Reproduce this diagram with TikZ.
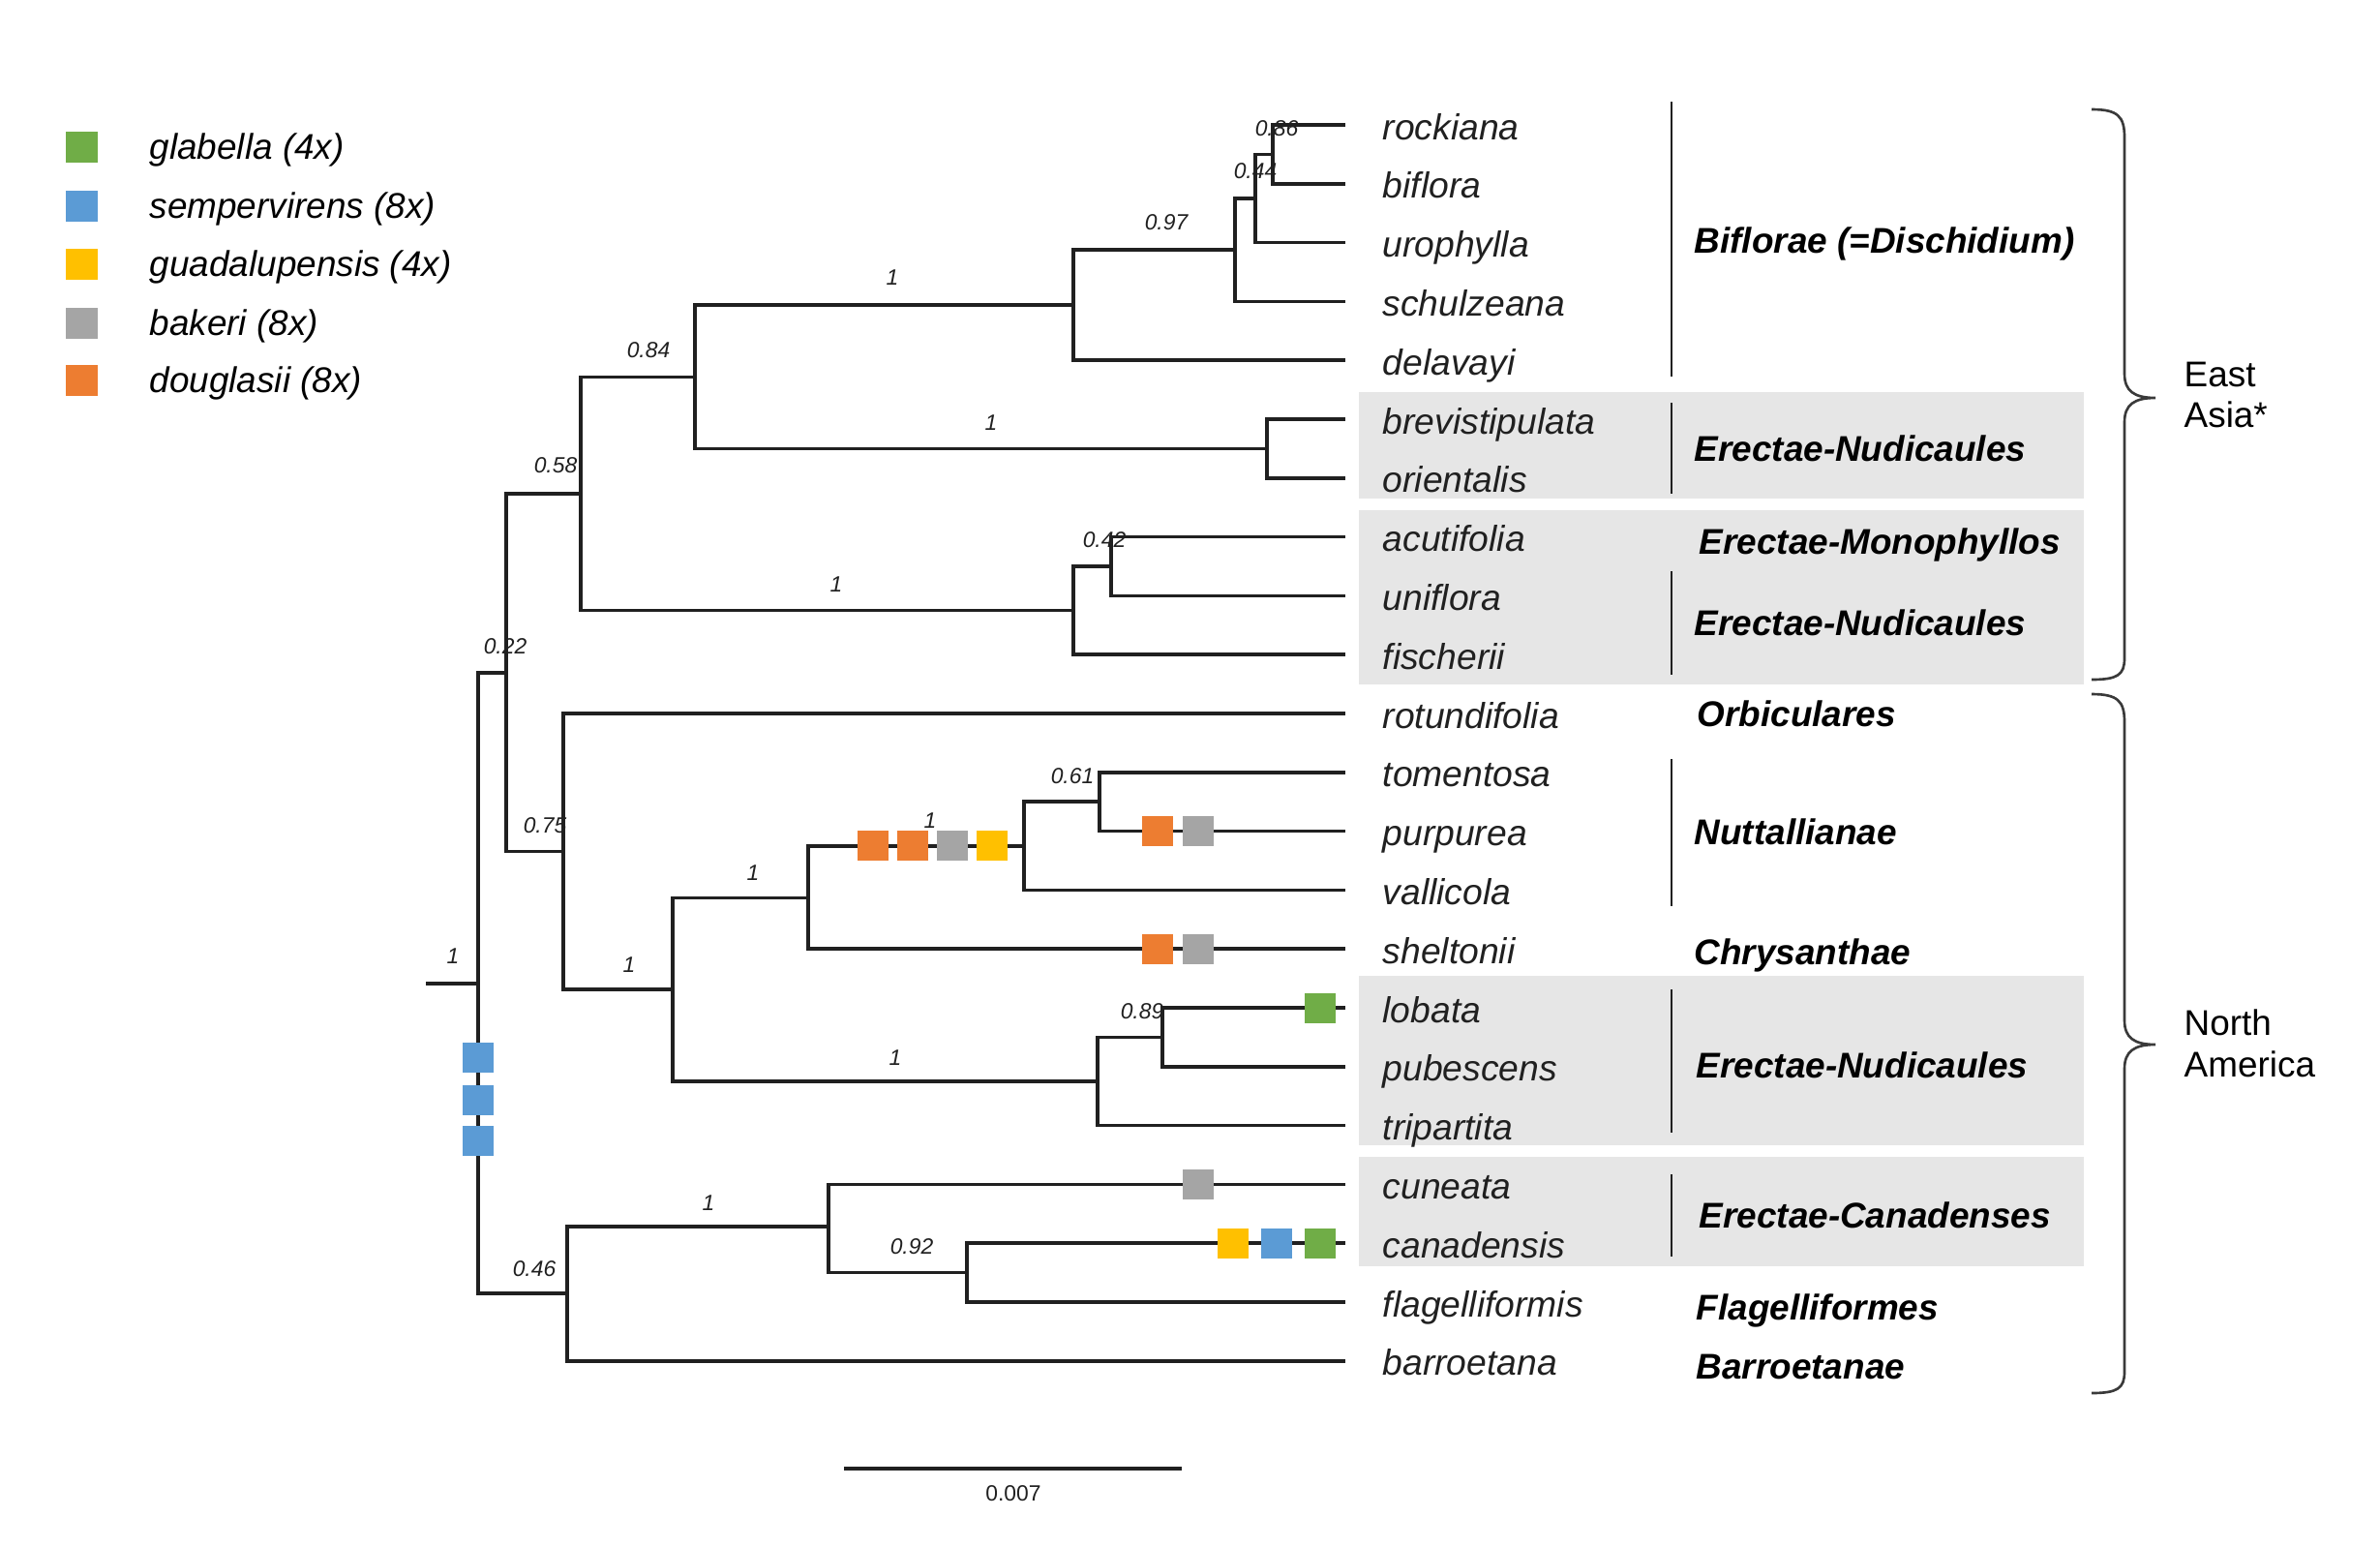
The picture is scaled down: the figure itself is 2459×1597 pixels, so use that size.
\documentclass[tikz,border=0pt]{standalone}
\usepackage{fontspec}
\setmainfont{Liberation Sans}
\definecolor{cgreen}{HTML}{70AD47}
\definecolor{cblue}{HTML}{5B9BD5}
\definecolor{cyellow}{HTML}{FFC000}
\definecolor{cgray}{HTML}{A5A5A5}
\definecolor{corange}{HTML}{ED7D31}
\definecolor{shadebg}{HTML}{E6E6E6}
\definecolor{treeline}{HTML}{202020}
\definecolor{bracecol}{HTML}{3A3A3A}
\begin{document}
\begin{tikzpicture}[x={(0.1mm,0)},y={(0,-0.1mm)},
  branch/.style={line width=1pt,draw=treeline},
  cladebar/.style={line width=0.65pt,draw=treeline},
  bracestyle/.style={line width=0.75pt,draw=bracecol},
  mk/.style={minimum width=3.2mm,minimum height=3.1mm,inner sep=0pt,fill=#1,draw=none},
  taxon/.style={anchor=base west,font=\fontsize{10.6}{12}\selectfont\itshape,inner sep=0pt,text=treeline},
  clade/.style={anchor=base west,font=\fontsize{10.5}{12}\selectfont\bfseries\itshape,inner sep=0pt},
  supp/.style={font=\fontsize{6.5}{7}\selectfont\itshape,inner sep=0pt,text=treeline},
  region/.style={anchor=north west,align=left,font=\fontsize{10.5}{12.2}\selectfont,inner sep=0pt},
  legtext/.style={anchor=base west,font=\fontsize{10.5}{12}\selectfont\itshape,inner sep=0pt}]
\useasboundingbox (0,0) rectangle (2459,1597);

% shaded clade backgrounds
\fill[shadebg] (1404,405) rectangle (2153,515);
\fill[shadebg] (1404,527) rectangle (2153,707);
\fill[shadebg] (1404,1008) rectangle (2153,1183);
\fill[shadebg] (1404,1195) rectangle (2153,1308);

% tips and taxon labels
\foreach \n/\i in {rockiana/0,biflora/1,urophylla/2,schulzeana/3,delavayi/4,brevistipulata/5,orientalis/6,acutifolia/7,uniflora/8,fischerii/9,rotundifolia/10,tomentosa/11,purpurea/12,vallicola/13,sheltonii/14,lobata/15,pubescens/16,tripartita/17,cuneata/18,canadensis/19,flagelliformis/20,barroetana/21}{
  \coordinate (t-\n) at (1390,{129+60.8*\i});
  \node[taxon] (l-\n) at (1428,{129+60.8*\i+15}) {\n};
}

% internal nodes
\coordinate (n086) at (1315,159.4);
\coordinate (n044) at (1297,205);
\coordinate (n097) at (1276,258.2);
\coordinate (nbif) at (1109,315.2);
\coordinate (nbo) at (1309,463.4);
\coordinate (n084) at (718,389.3);
\coordinate (n042) at (1148,585);
\coordinate (nuf) at (1109,630.6);
\coordinate (n058) at (600,510);
\coordinate (n061) at (1136,828.2);
\coordinate (nnut) at (1058,873.8);
\coordinate (nchr) at (835,927.5);
\coordinate (n089) at (1201,1071.5);
\coordinate (nlpt) at (1134,1117);
\coordinate (nna) at (695,1022);
\coordinate (n075) at (582,879.5);
\coordinate (n022) at (523,694.8);
\coordinate (n092) at (999,1314.6);
\coordinate (ncc) at (856,1267);
\coordinate (n046) at (586,1336);
\coordinate (root) at (494,1016);
\coordinate (rootstub) at (440,1016);

% tree edges
\draw[branch] (n086) |- (t-rockiana) (n086) |- (t-biflora);
\draw[branch] (n044) |- (n086) (n044) |- (t-urophylla);
\draw[branch] (n097) |- (n044) (n097) |- (t-schulzeana);
\draw[branch] (nbif) |- (n097) (nbif) |- (t-delavayi);
\draw[branch] (nbo) |- (t-brevistipulata) (nbo) |- (t-orientalis);
\draw[branch] (n084) |- (nbif) (n084) |- (nbo);
\draw[branch] (n042) |- (t-acutifolia) (n042) |- (t-uniflora);
\draw[branch] (nuf) |- (n042) (nuf) |- (t-fischerii);
\draw[branch] (n058) |- (n084) (n058) |- (nuf);
\draw[branch] (n061) |- (t-tomentosa) (n061) |- (t-purpurea);
\draw[branch] (nnut) |- (n061) (nnut) |- (t-vallicola);
\draw[branch] (nchr) |- (nnut) (nchr) |- (t-sheltonii);
\draw[branch] (n089) |- (t-lobata) (n089) |- (t-pubescens);
\draw[branch] (nlpt) |- (n089) (nlpt) |- (t-tripartita);
\draw[branch] (nna) |- (nchr) (nna) |- (nlpt);
\draw[branch] (n075) |- (t-rotundifolia) (n075) |- (nna);
\draw[branch] (n022) |- (n058) (n022) |- (n075);
\draw[branch] (n092) |- (t-canadensis) (n092) |- (t-flagelliformis);
\draw[branch] (ncc) |- (t-cuneata) (ncc) |- (n092);
\draw[branch] (n046) |- (ncc) (n046) |- (t-barroetana);
\draw[branch] (root) |- (n022) (root) |- (n046);
\draw[branch] (rootstub) -- (root);

% character boxes
\node[mk=corange] (b1) at (902,873.8) {};
\node[mk=corange] (b2) at (943,873.8) {};
\node[mk=cgray] (b3) at (984,873.8) {};
\node[mk=cyellow] (b4) at (1025,873.8) {};
\node[mk=corange] (b5) at (1196,858.6) {};
\node[mk=cgray] (b6) at (1238,858.6) {};
\node[mk=corange] (b7) at (1196,980.2) {};
\node[mk=cgray] (b8) at (1238,980.2) {};
\node[mk=cgreen] (b9) at (1364,1041) {};
\node[mk=cgray] (b10) at (1238,1223.4) {};
\node[mk=cyellow] (b11) at (1274,1284.2) {};
\node[mk=cblue] (b12) at (1319,1284.2) {};
\node[mk=cgreen] (b13) at (1364,1284.2) {};
\node[mk=cblue] (b14) at (494,1092) {};
\node[mk=cblue] (b15) at (494,1136) {};
\node[mk=cblue] (b16) at (494,1178) {};

% support values
\node[supp] (s1) at (1319,133) {0.86};
\node[supp] (s2) at (1297,177) {0.44};
\node[supp] (s3) at (1205,230) {0.97};
\node[supp] (s4) at (922,287) {1};
\node[supp] (s5) at (670,362) {0.84};
\node[supp] (s6) at (1024,437) {1};
\node[supp] (s7) at (574,481) {0.58};
\node[supp] (s8) at (1141,558) {0.42};
\node[supp] (s9) at (864,604) {1};
\node[supp] (s10) at (522,668) {0.22};
\node[supp] (s11) at (563,853) {0.75};
\node[supp] (s12) at (468,988) {1};
\node[supp] (s13) at (650,997) {1};
\node[supp] (s14) at (778,902) {1};
\node[supp] (s15) at (961,848) {1};
\node[supp] (s16) at (1108,802) {0.61};
\node[supp] (s17) at (1180,1045) {0.89};
\node[supp] (s18) at (925,1093) {1};
\node[supp] (s19) at (552,1311) {0.46};
\node[supp] (s20) at (732,1243) {1};
\node[supp] (s21) at (942,1288) {0.92};

% clade bars
\draw[cladebar] (1727,105) -- (1727,389);
\draw[cladebar] (1727,416) -- (1727,510);
\draw[cladebar] (1727,590) -- (1727,697);
\draw[cladebar] (1727,784) -- (1727,936);
\draw[cladebar] (1727,1022) -- (1727,1170);
\draw[cladebar] (1727,1213) -- (1727,1298);

% clade names
\node[clade] (c1) at (1750,261) {Biflorae (=Dischidium)};
\node[clade] (c2) at (1750,476) {Erectae-Nudicaules};
\node[clade] (c3) at (1755,572) {Erectae-Monophyllos};
\node[clade] (c4) at (1750,656) {Erectae-Nudicaules};
\node[clade] (c5) at (1753,750) {Orbiculares};
\node[clade] (c6) at (1750,872) {Nuttallianae};
\node[clade] (c7) at (1750,996) {Chrysanthae};
\node[clade] (c8) at (1752,1113) {Erectae-Nudicaules};
\node[clade] (c9) at (1755,1268) {Erectae-Canadenses};
\node[clade] (c10) at (1752,1363) {Flagelliformes};
\node[clade] (c11) at (1752,1424) {Barroetanae};

% braces
\draw[bracestyle] (2161,113) .. controls (2188,113) and (2195,120) .. (2195,142) -- (2195,386)
  .. controls (2195,404) and (2205,411) .. (2227,411)
  .. controls (2205,411) and (2195,418) .. (2195,436) -- (2195,680)
  .. controls (2195,697) and (2188,702) .. (2161,702);
\draw[bracestyle] (2161,717) .. controls (2188,717) and (2195,724) .. (2195,746) -- (2195,1054)
  .. controls (2195,1072) and (2205,1079) .. (2227,1079)
  .. controls (2205,1079) and (2195,1086) .. (2195,1104) -- (2195,1417)
  .. controls (2195,1434) and (2188,1439) .. (2161,1439);
\node[region] (r1) at (2256,373) {East\\Asia*};
\node[region] (r2) at (2256,1042) {North\\America};

% legend
\node[mk=cgreen,minimum width=3.3mm,minimum height=3.2mm] (g1) at (84.5,152) {};
\node[mk=cblue,minimum width=3.3mm,minimum height=3.2mm] (g2) at (84.5,213) {};
\node[mk=cyellow,minimum width=3.3mm,minimum height=3.2mm] (g3) at (84.5,273) {};
\node[mk=cgray,minimum width=3.3mm,minimum height=3.2mm] (g4) at (84.5,334) {};
\node[mk=corange,minimum width=3.3mm,minimum height=3.2mm] (g5) at (84.5,393) {};
\node[legtext] (gt1) at (154,164) {glabella (4x)};
\node[legtext] (gt2) at (154,225) {sempervirens (8x)};
\node[legtext] (gt3) at (154,285) {guadalupensis (4x)};
\node[legtext] (gt4) at (154,346) {bakeri (8x)};
\node[legtext] (gt5) at (154,405) {douglasii (8x)};

% scale bar
\coordinate (sb1) at (872,1517);
\coordinate (sb2) at (1221,1517);
\draw[branch] (sb1) -- (sb2);
\node[font=\fontsize{6.5}{7}\selectfont,inner sep=0pt,text=treeline] (sbl) at (1047,1543) {0.007};
\end{tikzpicture}
\end{document}
